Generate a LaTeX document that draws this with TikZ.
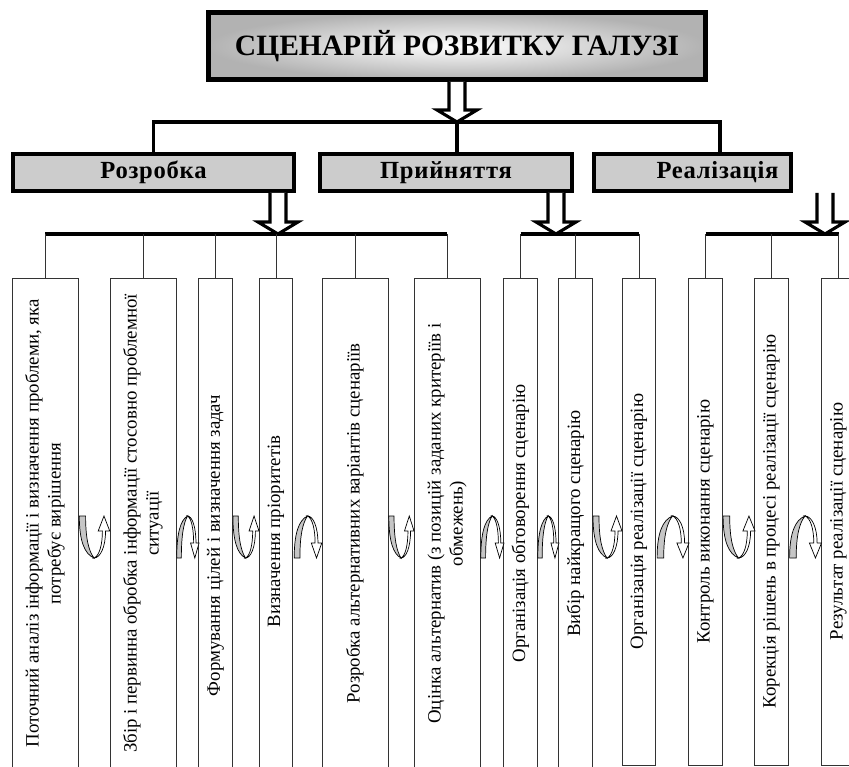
\documentclass[tikz,border=0pt]{standalone}
\usepackage{fontspec}
\setmainfont{Liberation Serif}
\newfontfamily\spaced[LetterSpace=3.0]{Liberation Serif}
\usetikzlibrary{calc}

\begin{document}
\begin{tikzpicture}[
        x=0.025cm, y=-0.025cm,
        headbox/.style={draw, line width=3.5pt, inner color=white, outer color=gray!60, minimum width=12.4cm, minimum height=1.675cm, font=\fontsize{21}{24}\selectfont\bfseries},
        phase/.style={draw, line width=2.8pt, fill=gray!40, minimum height=0.925cm, font=\spaced\fontsize{17.5}{20}\selectfont\bfseries},
        stage/.style={draw=black!80, line width=0.6pt, rotate=90, align=center, inner sep=2pt, font=\fontsize{13.4}{15.6}\selectfont},
        widecol/.style={minimum height=1.65cm},
        narrowcol/.style={minimum height=0.83cm},
        longcol/.style={minimum width=12.275cm},
        shortcol/.style={minimum width=12.175cm},
        trunk/.style={line width=2.4pt},
        twig/.style={draw=black!80, line width=0.6pt},
        fatarrow/.style={draw, fill=white, line width=2.2pt, line join=miter},
        loopback/.pic={
            \filldraw[fill=gray!45, line width=0.5pt] (-14,-21) -- (-8,-21) .. controls (-8,2) and (-5,14) .. (0,21) .. controls (-9,17) and (-14,4) .. (-14,-21) -- cycle;
            \filldraw[fill=white, line width=0.5pt] (0,21) .. controls (5,19) and (8,8) .. (8,-6) -- (4,-6) -- (9.5,-21) -- (15,-6) -- (11,-6) .. controls (11,10) and (6,21) .. (0,21) -- cycle;
        }
    ]
        \useasboundingbox (0,0) rectangle (849,767);

        % Title
        \node[headbox] (scen) at (457,46) {СЦЕНАРІЙ РОЗВИТКУ ГАЛУЗІ};

        % Phases
        \node[phase, minimum width=7.025cm] (dev) at (153.5,172.5) {Розробка};
        \node[phase, minimum width=6.3cm] (adopt) at (446,172.5) {Прийняття};
        \node[phase, minimum width=4.925cm] (real) at (692.5,172.5) {\hspace*{1.25cm}Реалізація};

        % Stages
        \node[stage, widecol, longcol] (s1) at (45,523.5) {Поточний аналіз інформації і визначення проблеми, яка\\потребує вирішення};
        \node[stage, widecol, longcol] (s2) at (143,523.5) {Збір і первинна обробка інформації стосовно проблемної\\ситуації};
        \node[stage, narrowcol, longcol] (s3) at (215.5,523.5) {Формування цілей і визначення задач\hspace*{1.1cm}};
        \node[stage, narrowcol, longcol] (s4) at (276,523.5) {Визначення пріоритетів\hspace*{0.4cm}};
        \node[stage, widecol, longcol] (s5) at (355,523.5) {Розробка альтернативних варіантів сценаріїв};
        \node[stage, widecol, longcol] (s6) at (447,523.5) {Оцінка альтернатив (з позицій заданих критеріїв і\\обмежень)};
        \node[stage, narrowcol, longcol] (s7) at (520.5,523.5) {Організація обговорення сценарію};
        \node[stage, narrowcol, longcol] (s8) at (575.5,523.5) {Вибір найкращого сценарію};
        \node[stage, narrowcol, shortcol] (s9) at (639,521.5) {Організація реалізації сценарію};
        \node[stage, narrowcol, shortcol] (s10) at (705.5,521.5) {Контроль виконання сценарію};
        \node[stage, narrowcol, shortcol] (s11) at (771.5,521.5) {Корекція рішень в процесі реалізації сценарію};
        \node[stage, narrowcol, shortcol] (s12) at (838.5,521.5) {Результат реалізації сценарію};

        % Connections
        \coordinate (top) at (457,122);
        \coordinate (tl) at (154,122);
        \coordinate (tr) at (720,122);
        \coordinate (bar) at (0,234);
        \coordinate (tip1) at (278,234);
        \coordinate (tip2) at (556,234);
        \coordinate (tip3) at (825,234);

        \draw[trunk] (dev.north) -- (dev.north |- tl) -- (tr) -- (tr |- real.north);
        \draw[trunk] (top) -- (top |- adopt.north);

        \foreach \from/\tip in {scen/top, dev/tip1, adopt/tip2, real/tip3}
            \filldraw[fatarrow] ($(\from.south -| \tip)+(-8,0)$) -- ($(\tip)+(-8,-12)$) -- ($(\tip)+(-20,-12)$) -- (\tip)
                -- ($(\tip)+(20,-12)$) -- ($(\tip)+(8,-12)$) -- ($(\from.south -| \tip)+(8,0)$);

        \draw[trunk] (s1.east |- bar) -- (s6.east |- bar);
        \draw[trunk] (s7.east |- bar) -- (s9.east |- bar);
        \draw[trunk] (s10.east |- bar) -- (s12.east |- bar);
        \foreach \i in {1,...,12}
            \draw[twig] (s\i.east) -- (s\i.east |- bar);

        % Feedback turns
        \foreach \x/\s/\f in {94/1.05/1, 187.5/0.77/-1, 245.5/0.9/1, 307.5/0.95/-1, 401/0.87/1, 492/0.8/-1,
                              548/0.73/-1, 607/1/1, 672.5/1.1/-1, 738.5/1.1/1, 805/1.1/-1}
            \pic[xscale=\s, yscale=\f] at (\x,537) {loopback};
    \end{tikzpicture}
\end{document}
